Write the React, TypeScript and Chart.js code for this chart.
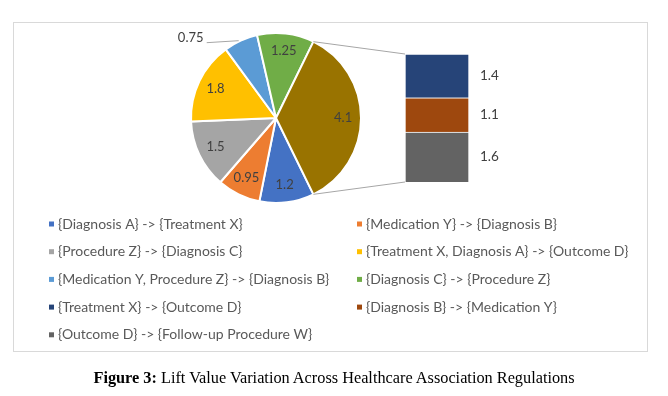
import React, { useEffect, useRef } from "react";
import { Chart, registerables } from "chart.js";

Chart.register(...registerables);

// ---- Data ----
const pieLabels = [
  "{Diagnosis A} -> {Treatment X}",
  "{Medication Y} -> {Diagnosis B}",
  "{Procedure Z} -> {Diagnosis C}",
  "{Treatment X, Diagnosis A} -> {Outcome D}",
  "{Medication Y, Procedure Z} -> {Diagnosis B}",
  "{Diagnosis C} -> {Procedure Z}",
];
const pieValues = [1.2, 0.95, 1.5, 1.8, 0.75, 1.25];
const pieColors = ["#4472C4", "#ED7D31", "#A5A5A5", "#FFC000", "#5B9BD5", "#70AD47"];

const barLabels = [
  "{Treatment X} -> {Outcome D}",
  "{Diagnosis B} -> {Medication Y}",
  "{Outcome D} -> {Follow-up Procedure W}",
];
const barValues = [1.4, 1.1, 1.6];
const barColors = ["#264478", "#9E480E", "#636363"];
const otherColor = "#997300";

const captionBold = "Figure 3:";
const captionText = " Lift Value Variation Across Healthcare Association Regulations";

const FONT = "Lato, 'Open Sans', sans-serif";
const W = 668;
const H = 396;

const fmt = (v: number) => String(Math.round(v * 100) / 100);

export default function App() {
  const pieRef = useRef<HTMLCanvasElement | null>(null);
  const barRef = useRef<HTMLCanvasElement | null>(null);

  useEffect(() => {
    if (!pieRef.current || !barRef.current) return;
    const otherSum = barValues.reduce((a, b) => a + b, 0);
    const total = pieValues.reduce((a, b) => a + b, 0) + otherSum;
    const otherAngle = (otherSum / total) * 360;
    const rotation = 90 + otherAngle / 2;

    const legendItems = [
      ...pieLabels.map((l, i) => ({ text: l, color: pieColors[i] })),
      ...barLabels.map((l, i) => ({ text: l, color: barColors[i] })),
    ];

    const pieLabelPlugin = {
      id: "pieLabels",
      afterDatasetsDraw(chart: any) {
        const ctx = chart.ctx;
        const meta = chart.getDatasetMeta(0);
        ctx.save();
        ctx.font = `13px ${FONT}`;
        ctx.fillStyle = "#404040";
        ctx.textAlign = "center";
        ctx.textBaseline = "middle";
        meta.data.forEach((arc: any, i: number) => {
          const val = chart.data.datasets[0].data[i] as number;
          const mid = (arc.startAngle + arc.endAngle) / 2;
          if (i === 4) {
            const ex = arc.x + Math.cos(mid) * arc.outerRadius;
            const ey = arc.y + Math.sin(mid) * arc.outerRadius;
            ctx.strokeStyle = "#a6a6a6";
            ctx.lineWidth = 1;
            ctx.beginPath();
            ctx.moveTo(ex - 34, ey + 2);
            ctx.lineTo(ex - 2, ey);
            ctx.stroke();
            ctx.fillText(fmt(val), ex - 50, ey - 3);
          } else {
            const r = arc.outerRadius * 0.79;
            ctx.fillText(fmt(val), arc.x + Math.cos(mid) * r, arc.y + Math.sin(mid) * r);
          }
        });
        // legend
        ctx.font = `14px ${FONT}`;
        ctx.textAlign = "left";
        legendItems.forEach((it, i) => {
          const col = i % 2;
          const row = Math.floor(i / 2);
          const sx = col === 0 ? 49 : 357;
          const y = 224 + row * 27.7;
          ctx.fillStyle = it.color;
          ctx.fillRect(sx, y - 2.5, 5, 5);
          ctx.fillStyle = "#595959";
          ctx.fillText(it.text, sx + 9, y);
        });
        ctx.restore();
      },
    };

    const pie = new Chart(pieRef.current, {
      type: "pie",
      data: {
        labels: [...pieLabels, "Other"],
        datasets: [
          {
            data: [...pieValues, otherSum],
            backgroundColor: [...pieColors, otherColor],
            borderColor: "#ffffff",
            borderWidth: 2,
          },
        ],
      },
      options: {
        animation: false,
        responsive: false,
        rotation,
        radius: 85,
        layout: { padding: { left: 190, right: W - 362, top: 32, bottom: H - 204 } },
        plugins: { legend: { display: false }, tooltip: { enabled: false } },
      },
      plugins: [pieLabelPlugin],
    });

    const barPlugin = {
      id: "barExtras",
      afterDatasetsDraw(chart: any) {
        const ctx = chart.ctx;
        const n = chart.data.datasets.length;
        ctx.save();
        ctx.font = `13.5px ${FONT}`;
        ctx.fillStyle = "#404040";
        ctx.textAlign = "left";
        ctx.textBaseline = "middle";
        for (let d = 0; d < n; d++) {
          const el = chart.getDatasetMeta(d).data[0];
          const v = chart.data.datasets[d].data[0];
          ctx.fillText(fmt(v), el.x + el.width / 2 + 11, (el.y + el.base) / 2);
        }
        const topEl = chart.getDatasetMeta(n - 1).data[0];
        const botEl = chart.getDatasetMeta(0).data[0];
        const arc: any = pie.getDatasetMeta(0).data[pieValues.length];
        const r = arc.outerRadius;
        const p1 = { x: arc.x + Math.cos(arc.startAngle) * r, y: arc.y + Math.sin(arc.startAngle) * r };
        const p2 = { x: arc.x + Math.cos(arc.endAngle) * r, y: arc.y + Math.sin(arc.endAngle) * r };
        const left = topEl.x - topEl.width / 2;
        ctx.strokeStyle = "#a6a6a6";
        ctx.lineWidth = 1;
        ctx.beginPath();
        ctx.moveTo(p1.x, p1.y);
        ctx.lineTo(left, topEl.y);
        ctx.moveTo(p2.x, p2.y);
        ctx.lineTo(left, botEl.base);
        ctx.stroke();
        ctx.restore();
      },
    };

    const bar = new Chart(barRef.current, {
      type: "bar",
      data: {
        labels: ["Other"],
        datasets: barValues
          .map((v, i) => ({
            label: barLabels[i],
            data: [v],
            backgroundColor: barColors[i],
            borderColor: "#ffffff",
            borderWidth: 1,
            barPercentage: 1,
            categoryPercentage: 1,
          }))
          .reverse(),
      },
      options: {
        animation: false,
        responsive: false,
        layout: { padding: { left: 405, right: W - 469, top: 54, bottom: H - 182 } },
        scales: {
          x: { stacked: true, display: false },
          y: { stacked: true, display: false, min: 0, max: otherSum },
        },
        plugins: { legend: { display: false }, tooltip: { enabled: false } },
      },
      plugins: [barPlugin],
    });

    return () => {
      bar.destroy();
      pie.destroy();
    };
  }, []);

  return (
    <div style={{ position: "fixed", left: 0, top: 0, width: W, height: H, background: "#fff" }}>
      <div
        style={{
          position: "absolute",
          left: 13,
          top: 22,
          width: 633,
          height: 328,
          border: "1px solid #d9d9d9",
        }}
      />
      <canvas ref={pieRef} width={W} height={H} style={{ position: "absolute", left: 0, top: 0, width: W, height: H }} />
      <canvas
        ref={barRef}
        width={W}
        height={H}
        style={{ position: "absolute", left: 0, top: 0, width: W, height: H, pointerEvents: "none" }}
      />
      <div
        style={{
          position: "absolute",
          left: 0,
          top: 368,
          width: W,
          textAlign: "center",
          fontFamily: "'Liberation Serif', 'Times New Roman', serif",
          fontSize: 16.3,
          color: "#000",
          whiteSpace: "nowrap",
        }}
      >
        <b>{captionBold}</b>
        {captionText}
      </div>
    </div>
  );
}
